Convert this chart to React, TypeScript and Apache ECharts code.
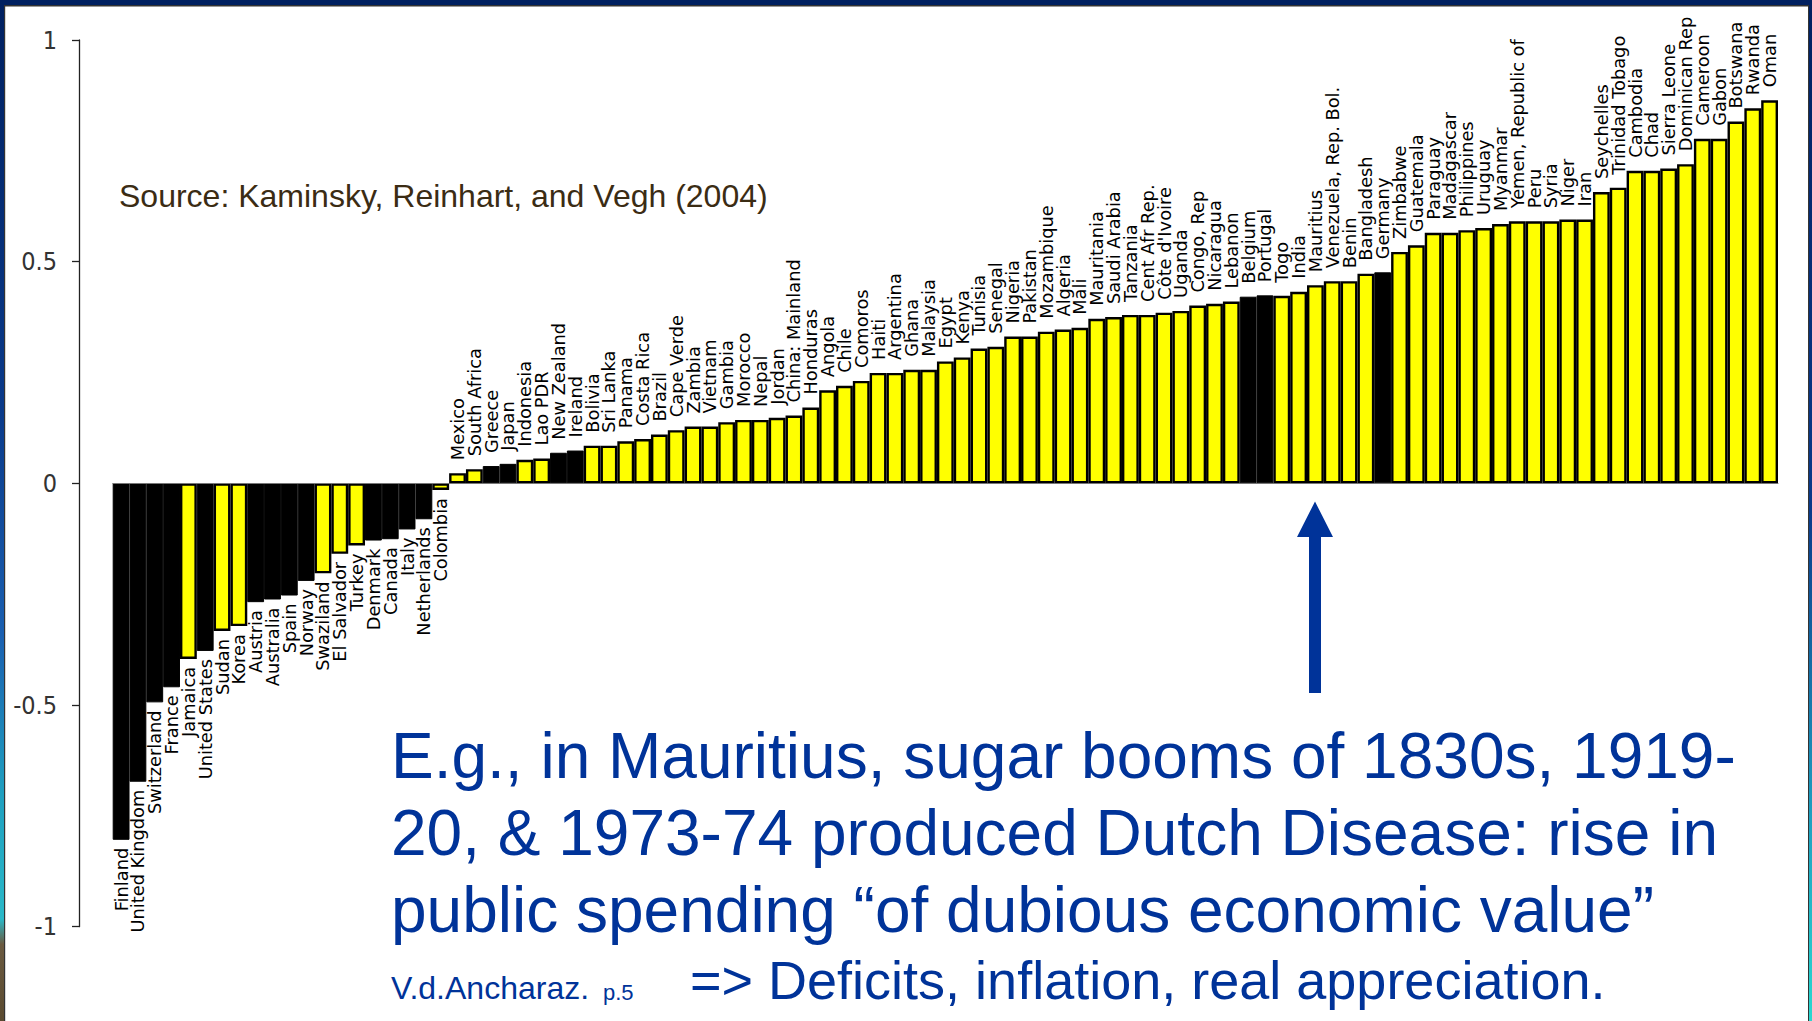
import React, { useEffect, useRef } from "react";
import * as echarts from "echarts";

const countries: string[] = [
  "Finland", "United Kingdom", "Switzerland", "France", "Jamaica", "United States", "Sudan", "Korea",
  "Austria", "Australia", "Spain", "Norway", "Swaziland", "El Salvador", "Turkey", "Denmark", "Canada",
  "Italy", "Netherlands", "Colombia", "Mexico", "South Africa", "Greece", "Japan", "Indonesia", "Lao PDR",
  "New Zealand", "Ireland", "Bolivia", "Sri Lanka", "Panama", "Costa Rica", "Brazil", "Cape Verde",
  "Zambia", "Vietnam", "Gambia", "Morocco", "Nepal", "Jordan", "China: Mainland", "Honduras", "Angola",
  "Chile", "Comoros", "Haiti", "Argentina", "Ghana", "Malaysia", "Egypt", "Kenya", "Tunisia", "Senegal",
  "Nigeria", "Pakistan", "Mozambique", "Algeria", "Mali", "Mauritania", "Saudi Arabia", "Tanzania",
  "Cent Afr Rep.", "Côte d'Ivoire", "Uganda", "Congo, Rep", "Nicaragua", "Lebanon", "Belgium", "Portugal",
  "Togo", "India", "Mauritius", "Venezuela, Rep. Bol.", "Benin", "Bangladesh", "Germany", "Zimbabwe",
  "Guatemala", "Paraguay", "Madagascar", "Philippines", "Uruguay", "Myanmar", "Yemen, Republic of", "Peru",
  "Syria", "Niger", "Iran", "Seychelles", "Trinidad Tobago", "Cambodia", "Chad", "Sierra Leone",
  "Dominican Rep", "Cameroon", "Gabon", "Botswana", "Rwanda", "Oman",
];

const correlations: number[] = [
  -0.804, -0.673, -0.494, -0.46, -0.396, -0.378, -0.333, -0.322,
  -0.268, -0.262, -0.253, -0.22, -0.203, -0.159, -0.14, -0.129, -0.126,
  -0.104, -0.081, -0.015, 0.023, 0.032, 0.039, 0.044, 0.053, 0.056,
  0.069, 0.074, 0.085, 0.085, 0.095, 0.1, 0.11, 0.12,
  0.128, 0.128, 0.138, 0.143, 0.143, 0.148, 0.153, 0.171, 0.21,
  0.22, 0.231, 0.249, 0.249, 0.256, 0.256, 0.275, 0.284, 0.304, 0.308,
  0.331, 0.331, 0.342, 0.347, 0.351, 0.371, 0.375, 0.38,
  0.38, 0.385, 0.389, 0.401, 0.405, 0.41, 0.421, 0.424,
  0.423, 0.432, 0.447, 0.456, 0.456, 0.473, 0.476, 0.522,
  0.537, 0.565, 0.565, 0.571, 0.576, 0.585, 0.591, 0.591,
  0.591, 0.595, 0.595, 0.657, 0.667, 0.705, 0.705, 0.71,
  0.72, 0.777, 0.777, 0.816, 0.846, 0.864,
];

const industrialCountries: string[] = [
  "Finland", "United Kingdom", "Switzerland", "France", "United States", "Austria", "Australia", "Spain",
  "Norway", "Denmark", "Canada", "Italy", "Netherlands", "Greece", "Japan", "New Zealand", "Ireland",
  "Belgium", "Portugal", "Germany",
];

const yTicks: number[] = [-1, -0.5, 0, 0.5, 1];

const sourceText = "Source: Kaminsky, Reinhart, and Vegh (2004)";
const noteLines: string[] = [
  "E.g., in Mauritius, sugar booms of 1830s, 1919-",
  "20, & 1973-74 produced Dutch Disease: rise in",
  "public spending \u201cof dubious economic value\u201d",
];
const noteCite = "V.d.Ancharaz.";
const notePage = "p.5";
const noteLast = "=> Deficits, inflation, real appreciation.";

const BLUE = "#003399";
const SANS = "'Liberation Sans', Arial, sans-serif";

export default function App() {
  const ref = useRef<HTMLDivElement>(null);

  useEffect(() => {
    if (!ref.current) return;
    const chart = echarts.init(ref.current, undefined, { renderer: "svg" });

    const data = countries.map((name, i) => {
      const v = correlations[i];
      const black = industrialCountries.includes(name);
      const pos = v >= 0;
      return {
        name,
        value: v,
        itemStyle: black
          ? { color: "#000000", borderColor: "#000000", borderWidth: 1 }
          : { color: "#ffff00", borderColor: "#000000", borderWidth: 2.4 },
        label: {
          show: true,
          position: pos ? "top" : "bottom",
          distance: pos ? 13 : 8,
          rotate: 90,
          align: pos ? "left" : "right",
          verticalAlign: "middle",
          formatter: "{b}",
          fontSize: 17.8,
          fontFamily: "DejaVu Sans",
          color: "#000000",
        },
      };
    });

    const leftGrad = new echarts.graphic.LinearGradient(0, 0, 0, 1, [
      { offset: 0, color: "#002060" },
      { offset: 0.4, color: "#0a3a8a" },
      { offset: 0.62, color: "#1a5fb0" },
      { offset: 0.78, color: "#1fa0c0" },
      { offset: 0.9, color: "#2ab8c8" },
      { offset: 0.925, color: "#6a5a40" },
      { offset: 1, color: "#5a4a30" },
    ]);
    const rightGrad = new echarts.graphic.LinearGradient(0, 0, 0, 1, [
      { offset: 0, color: "#002060" },
      { offset: 0.5, color: "#0a3a8a" },
      { offset: 0.8, color: "#1fa0c0" },
      { offset: 1, color: "#2ad8d0" },
    ]);

    const option: any = {
      animation: false,
      backgroundColor: "#ffffff",
      grid: { left: 112.7, right: 34, top: 40, bottom: 94.3 },
      xAxis: {
        type: "category",
        data: countries,
        z: 3,
        axisLine: { show: true, onZero: true, lineStyle: { color: "#777777", width: 1 } },
        axisTick: { show: false },
        axisLabel: { show: false },
        splitLine: { show: false },
      },
      yAxis: {
        type: "value",
        min: yTicks[0],
        max: yTicks[yTicks.length - 1],
        interval: yTicks[1] - yTicks[0],
        offset: 33.7,
        axisLine: { show: true, lineStyle: { color: "#222222", width: 1.3 } },
        axisTick: { show: true, length: 7, lineStyle: { color: "#222222", width: 1.3 } },
        axisLabel: {
          show: true,
          margin: 22,
          fontSize: 25,
          color: "#333333",
          fontFamily: "'Liberation Sans Narrow', 'DejaVu Sans Condensed', 'Liberation Sans', Arial, sans-serif",
        },
        splitLine: { show: false },
      },
      series: [
        {
          type: "bar",
          data,
          barCategoryGap: "0%",
          barGap: "0%",
          z: 2,
        },
      ],
      graphic: [
        { type: "rect", shape: { x: 0, y: 0, width: 1812, height: 5 }, style: { fill: "#002060" }, z: 10 },
        { type: "line", shape: { x1: 0, y1: 5.7, x2: 1812, y2: 5.7 }, style: { stroke: "#333333", lineWidth: 1.4 }, z: 10 },
        { type: "rect", shape: { x: 0, y: 0, width: 4, height: 1021 }, style: { fill: leftGrad }, z: 10 },
        { type: "line", shape: { x1: 4.6, y1: 5, x2: 4.6, y2: 1021 }, style: { stroke: "#333333", lineWidth: 1.2 }, z: 10 },
        { type: "rect", shape: { x: 1809, y: 0, width: 3, height: 1021 }, style: { fill: rightGrad }, z: 10 },
        { type: "line", shape: { x1: 1808.5, y1: 5, x2: 1808.5, y2: 1021 }, style: { stroke: "#333333", lineWidth: 1 }, z: 10 },
        {
          type: "text",
          x: 119,
          y: 196,
          style: {
            text: sourceText,
            fontSize: 32,
            fontFamily: SANS,
            fill: "#3b2c14",
            align: "left",
            verticalAlign: "middle",
          },
          z: 10,
        },
        ...noteLines.map((t, i) => ({
          type: "text",
          x: 391,
          y: [756, 833, 910][i],
          style: {
            text: t,
            fontSize: 64,
            fontFamily: SANS,
            fill: BLUE,
            align: "left",
            verticalAlign: "middle",
          },
          z: 10,
        })),
        {
          type: "text",
          x: 391,
          y: 988,
          style: { text: noteCite, fontSize: 32, fontFamily: SANS, fill: BLUE, align: "left", verticalAlign: "middle" },
          z: 10,
        },
        {
          type: "text",
          x: 603,
          y: 992,
          style: { text: notePage, fontSize: 22, fontFamily: SANS, fill: BLUE, align: "left", verticalAlign: "middle" },
          z: 10,
        },
        {
          type: "text",
          x: 690,
          y: 980,
          style: { text: noteLast, fontSize: 54, fontFamily: SANS, fill: BLUE, align: "left", verticalAlign: "middle" },
          z: 10,
        },
        {
          type: "polygon",
          shape: {
            points: [
              [1315, 501.5],
              [1333, 537],
              [1321, 537],
              [1321, 693],
              [1309, 693],
              [1309, 537],
              [1297, 537],
            ],
          },
          style: { fill: BLUE },
          z: 10,
        },
      ],
    };

    chart.setOption(option);
    return () => {
      chart.dispose();
    };
  }, []);

  return (
    <div
      ref={ref}
      style={{ position: "absolute", left: 0, top: 0, width: 1812, height: 1021 }}
    />
  );
}
